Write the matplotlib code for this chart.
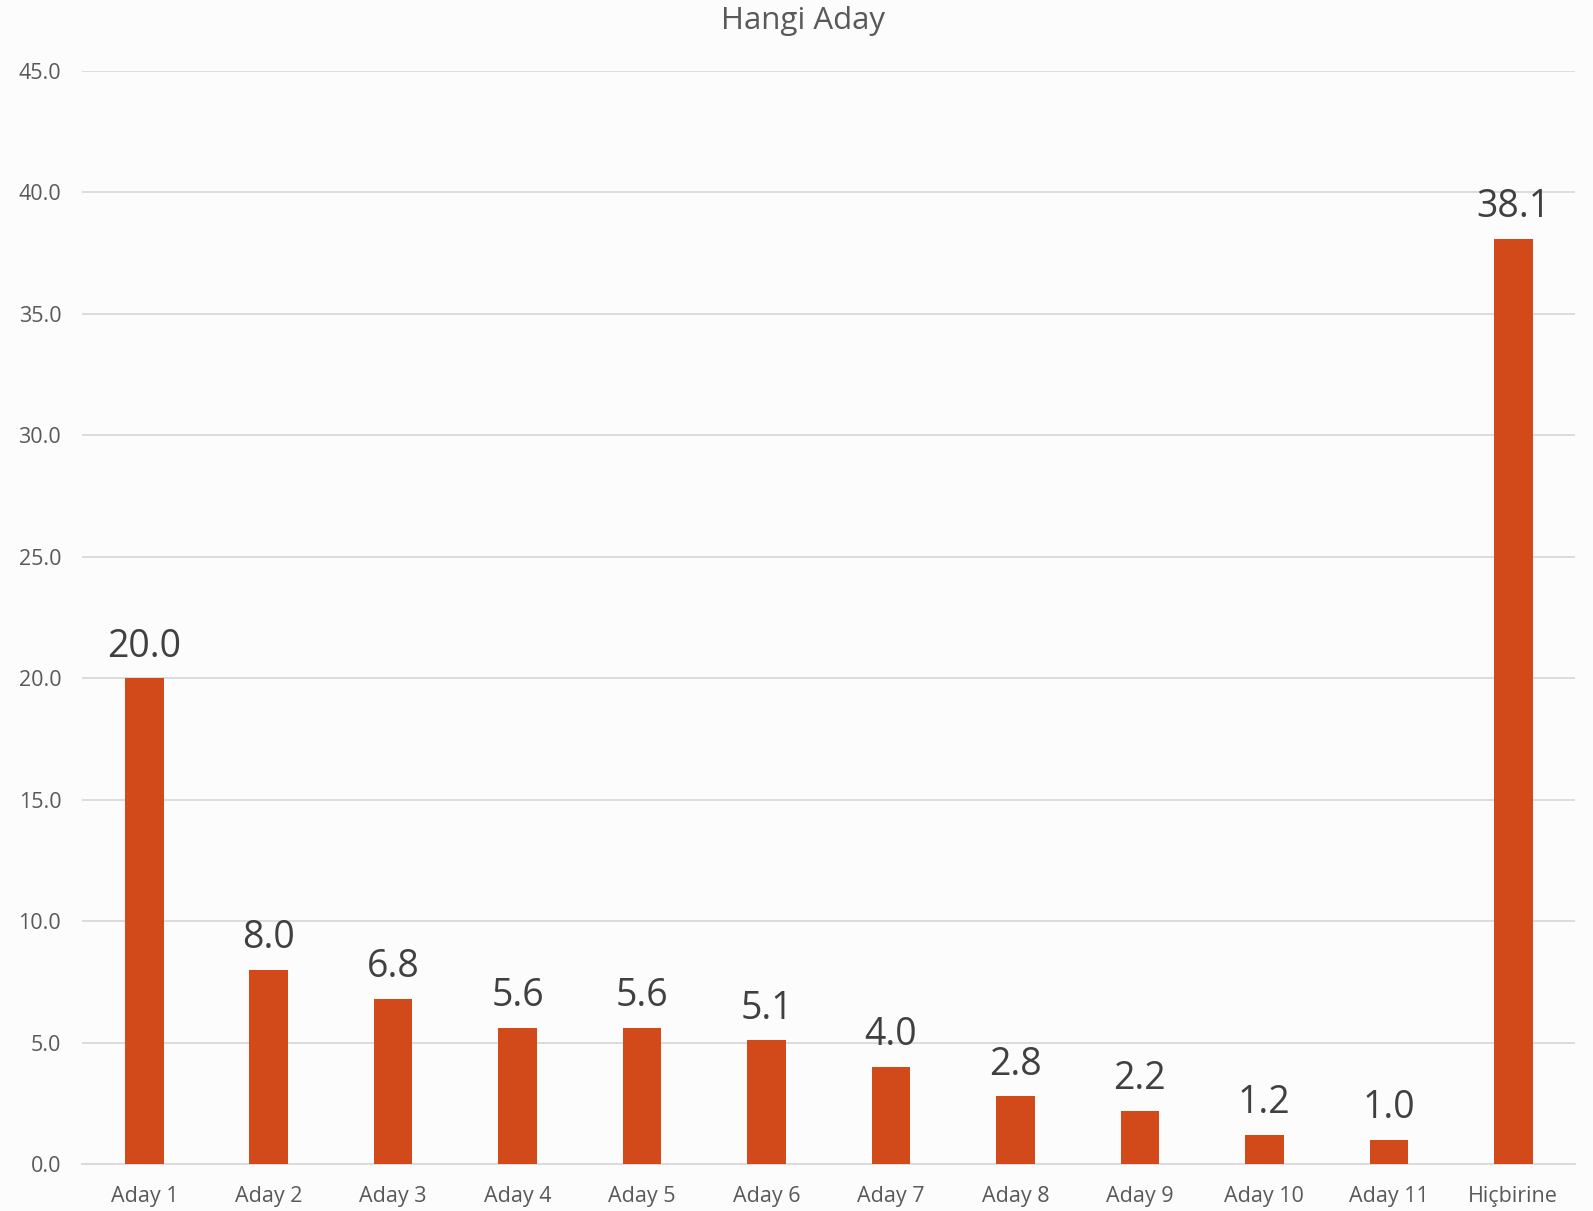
import numpy as np
import matplotlib
matplotlib.use("Agg")
from matplotlib import pyplot as plt

categories = ["Aday 1", "Aday 2", "Aday 3", "Aday 4", "Aday 5", "Aday 6",
              "Aday 7", "Aday 8", "Aday 9", "Aday 10", "Aday 11", "Hiçbirine"]
values = [20.0, 8.0, 6.8, 5.6, 5.6, 5.1, 4.0, 2.8, 2.2, 1.2, 1.0, 38.1]
yticks = [0, 5, 10, 15, 20, 25, 30, 35, 40, 45]

plt.rcParams['font.family'] = ['Open Sans', 'DejaVu Sans']

bg = "#fcfcfc"
fig = plt.figure(figsize=(15.93, 12.11), dpi=100, facecolor=bg)
ax = fig.add_axes([0.0515, 0.0388, 0.9375, 0.9026], facecolor=bg)

x = np.arange(len(categories))
ax.bar(x, values, width=0.31, color="#d24a1a", zorder=3)

for xi, v in zip(x, values):
    ax.annotate(f"{v:.1f}", (xi, v), xytext=(0, 9), textcoords="offset points",
                ha="center", va="bottom", fontsize=27, color="#404040")

ax.set_xlim(-0.5, len(categories) - 0.5)
ax.set_ylim(0, 45)
ax.set_yticks(yticks)
ax.set_yticklabels([f"{t:.1f}" for t in yticks])
ax.set_xticks(x)
ax.set_xticklabels(categories)
ax.tick_params(axis="both", length=0, labelsize=15.5, colors="#595959")
ax.tick_params(axis="y", pad=15)
ax.tick_params(axis="x", pad=16)
ax.grid(axis="y", color="#d9d9d9", linewidth=1.3, zorder=0)
for s in ["top", "right", "left"]:
    ax.spines[s].set_visible(False)
ax.spines["bottom"].set_color("#d9d9d9")
ax.spines["bottom"].set_linewidth(1.3)

fig.text(0.504, 0.983, "Hangi Aday", ha="center", va="center", fontsize=22.5, color="#595959")

fig.savefig("out.png", dpi=100, facecolor=bg)
